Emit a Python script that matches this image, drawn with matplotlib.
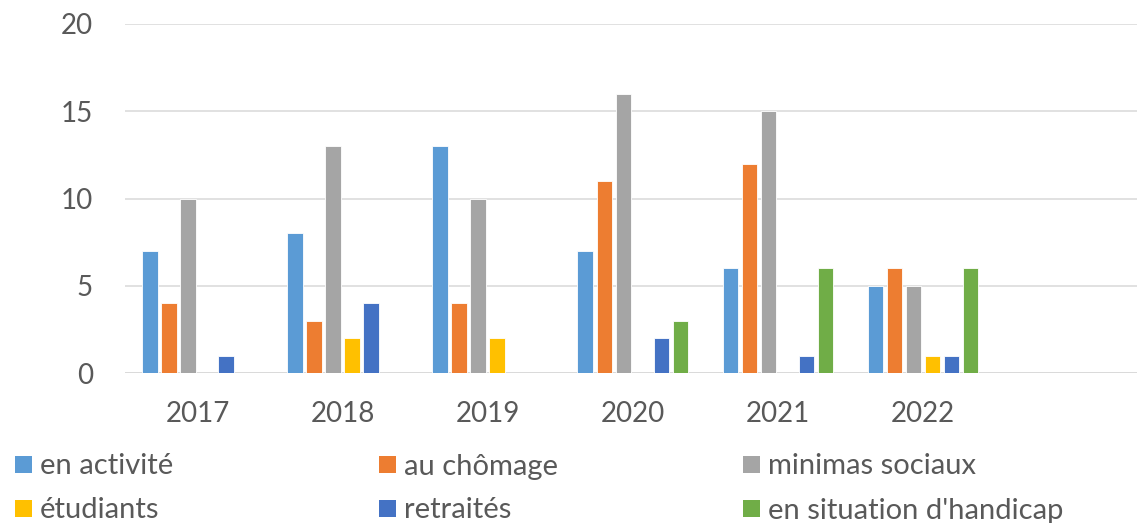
import matplotlib
matplotlib.use("Agg")
import matplotlib.pyplot as plt
from matplotlib.patches import Rectangle
import numpy as np

years = ["2017", "2018", "2019", "2020", "2021", "2022"]
series_names = ["en activité", "au chômage", "minimas sociaux",
                "étudiants", "retraités", "en situation d'handicap"]
en_activite = [7, 8, 13, 7, 6, 5]
au_chomage = [4, 3, 4, 11, 12, 6]
minimas_sociaux = [10, 13, 10, 16, 15, 5]
etudiants = [0, 2, 2, 0, 0, 1]
retraites = [1, 4, 0, 2, 1, 1]
handicap = [0, 0, 0, 3, 6, 6]
y_ticks = [0, 5, 10, 15, 20]

series = [en_activite, au_chomage, minimas_sociaux, etudiants, retraites, handicap]
colors = ["#5B9BD5", "#ED7D31", "#A5A5A5", "#FFC000", "#4472C4", "#70AD47"]

plt.rcParams['font.family'] = ['Lato', 'DejaVu Sans']
TXT = "#595959"

W, H = 1137, 523
fig = plt.figure(figsize=(W / 100, H / 100), dpi=100)
ax_left, ax_right = 125, 1137
ax_bottom, ax_top = 373, 24
ax = fig.add_axes([ax_left / W, 1 - ax_bottom / H, (ax_right - ax_left) / W, (ax_bottom - ax_top) / H])

slot = 145.1
x = np.arange(len(years))
step = 0.131
bw = 0.108
n = len(series)
for i, (vals, c) in enumerate(zip(series, colors)):
    off = (i - (n - 1) / 2) * step
    ax.bar(x + off, vals, width=bw, color=c, edgecolor="white", linewidth=0.6, zorder=3)

ax.set_xlim(-0.5, -0.5 + (ax_right - ax_left) / slot)
ax.set_ylim(0, 20)
ax.set_yticks(y_ticks)
ax.set_xticks(x)
ax.set_xticklabels(years)
ax.tick_params(axis='both', length=0, labelsize=20, colors=TXT)
ax.tick_params(axis='y', pad=23)
ax.tick_params(axis='x', pad=20)
ax.grid(axis='y', color="#D9D9D9", linewidth=1.1, zorder=0)
for s in ax.spines.values():
    s.set_visible(False)
ax.axhline(0, color="#D9D9D9", linewidth=1.1, zorder=2)

# legend, drawn in figure pixel coordinates
col_x = [15, 379, 743]
row_y = [464, 508]
msize = 17
for i, (name, c) in enumerate(zip(series_names, colors)):
    r, cc = divmod(i, 3)
    x0 = col_x[cc]
    yc = row_y[r]
    fig.patches.append(Rectangle((x0 / W, 1 - (yc + msize / 2) / H), msize / W, msize / H,
                                 transform=fig.transFigure, facecolor=c, edgecolor="none"))
    fig.text((x0 + msize + 8) / W, 1 - yc / H, name, fontsize=21, color=TXT,
             ha='left', va='center_baseline')

fig.savefig("out.png", dpi=100)
